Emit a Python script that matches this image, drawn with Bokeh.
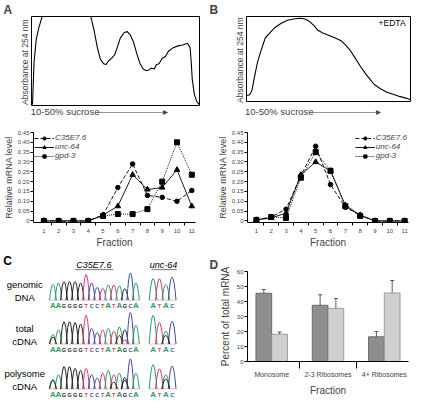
from bokeh.plotting import figure
from bokeh.layouts import column, row
from bokeh.models import (Range1d, FixedTicker, Legend, LegendItem,
                          NumeralTickFormatter, ColumnDataSource, Whisker, TeeHead)
from bokeh.transform import dodge
from bokeh.core.properties import value
from bokeh.embed import file_html
from bokeh.resources import INLINE

FONT = "Liberation Sans"

profA_x = [0.6, 1.5, 2.8, 4.3, 6.2, 7.5, 34.0, 35.4, 37.3, 39.2, 41.0, 42.9, 44.3, 45.8, 47.6, 49.5,
           51.0, 52.9, 55.2, 57.0, 58.9, 60.8, 62.7, 64.6, 66.5, 68.4, 69.9, 71.2, 73.1, 74.4,
           75.9, 77.8, 79.7, 81.5, 84.4, 87.2, 90.0, 92.8, 94.4, 95.1, 95.7, 97.0, 98.5, 100.0]
profA_y = [1, 48, 74, 87, 99, 106, 106, 99, 84, 65, 52, 47, 46, 50, 53, 57,
           65, 76, 82, 83, 79, 71, 58, 47, 41, 39, 40, 42, 41, 46,
           47, 53, 55, 61, 65, 67, 68, 70, 65, 48, 29, 12, 4, 1]
profB_x = [0.4, 1.9, 3.3, 4.8, 6.7, 8.7, 11.5, 14.4, 17.3, 21.2, 25.0, 28.8, 32.7, 35.6, 38.5,
           41.3, 43.3, 46.2, 50.0, 53.8, 57.7, 60.6, 63.5, 66.3, 69.2, 72.1, 75.0, 77.9, 81.7,
           85.6, 89.4, 93.3, 97.1, 100.0]
profB_y = [7, 8, 13, 28.5, 46, 59, 75, 81, 87, 92, 95.5, 97, 98, 97, 94,
           89, 84, 81, 78, 75, 71.5, 66, 59.5, 51, 42, 34, 27, 20, 15,
           11, 8.5, 6, 4, 2]

fractions = [1, 2, 3, 4, 5, 6, 7, 8, 9, 10, 11]
A_c35 = [0, 0, 0, 0, 0.03, 0.17, 0.29, 0.13, 0.12, 0.10, 0.155]
A_unc = [0, 0, 0, 0, 0.03, 0.075, 0.235, 0.16, 0.17, 0.26, 0.075]
A_gpd = [0, 0, 0, 0, 0.025, 0.035, 0.035, 0.06, 0.20, 0.40, 0.235]
B_c35 = [0.005, 0.02, 0.06, 0.23, 0.38, 0.185, 0.07, 0.03, 0, 0, 0]
B_unc = [0.005, 0.015, 0.04, 0.235, 0.30, 0.255, 0.08, 0.03, 0, 0, 0]
B_gpd = [0.005, 0.02, 0.015, 0.22, 0.35, 0.255, 0.075, 0.025, 0, 0, 0]
series_names = ["C35E7.6", "unc-64", "gpd-3"]
y_ticks = [0, 0.05, 0.10, 0.15, 0.20, 0.25, 0.30, 0.35, 0.40, 0.45]

seq_c35 = "AAGGGGTCCTATAGCA"
gen_c35 = [0.55, 0.6, 0.65, 0.65, 0.65, 0.6, 0.9, 0.6, 0.45, 0.42, 0.53, 0.53, 0.5, 0.4, 0.95, 0.6]
tot_c35 = [0.33, 0.5, 0.78, 0.78, 0.75, 0.7, 1.0, 0.55, 0.4, 0.5, 0.55, 0.45, 0.6, 0.5, 1.1, 0.66]
pol_c35 = [0.33, 0.5, 0.78, 0.78, 0.72, 0.65, 0.72, 0.5, 0.38, 0.55, 0.65, 0.5, 0.55, 0.4, 1.05, 0.55]
tot_c35_sec = [(0, "G", 0.25), (12, "G", 0.3), (13, "T", 0.15)]
pol_c35_sec = [(0, "G", 0.3), (11, "G", 0.25), (13, "G", 0.3)]
seq_unc = "ATAC"
gen_unc = [0.75, 0.75, 0.55, 0.8]
tot_unc = [1.0, 0.75, 0.45, 0.8]
pol_unc = [0.85, 0.7, 0.5, 0.8]
tot_unc_sec = [(2, "G", 0.3)]
pol_unc_sec = [(2, "G", 0.35)]
row_labels = [("genomic", "DNA"), ("total", "cDNA"), ("polysome", "cDNA")]

bar_cats = ["Monosome", "2-3 Ribosomes", "4+ Ribosomes"]
dark_vals = [45.5, 37.5, 16.5]
dark_lo = [43, 30, 13]
dark_hi = [48, 44.5, 20]
light_vals = [18.2, 35.5, 45.7]
light_lo = [16.7, 29, 38.5]
light_hi = [19.6, 42, 54]

BASE_COL = {"A": "#2f9a68", "C": "#3b4ea6", "G": "#222222", "T": "#d83a6e"}
SUCROSE = "10-50% sucrose"
ARROW = "\u2014" * 7 + "\u25B8"
W = 206


def base_fig(w, h, xr, yr, **kw):
    p = figure(width=w, height=h, x_range=xr, y_range=yr, output_backend="svg",
               toolbar_location=None, **kw)
    p.grid.visible = False
    p.background_fill_color = "white"
    p.border_fill_color = "white"
    return p


def set_title(p, text, offset):
    p.title.text = text
    p.title.align = "left"
    p.title.offset = offset
    p.title.standoff = 0
    p.title.text_font = FONT
    p.title.text_font_size = "12px"
    p.title.text_font_style = "bold"


def profile(xs, ys, letter, left, right, top, bottom, toff, lab_standoff, edta):
    p = base_fig(W, 119, Range1d(0, 100), Range1d(0, 100),
                 min_border_left=left, min_border_right=right,
                 min_border_top=top, min_border_bottom=bottom)
    set_title(p, letter, toff)
    p.outline_line_color = "black"
    p.outline_line_width = 1
    p.line(xs, ys, line_color="black", line_width=1.1)
    p.yaxis.ticker = FixedTicker(ticks=[])
    p.yaxis.axis_line_color = None
    p.yaxis.axis_label = "Absorbance at  254 nm"
    p.yaxis.axis_label_text_font = FONT
    p.yaxis.axis_label_text_font_size = "8.5px"
    p.yaxis.axis_label_text_font_style = "normal"
    p.yaxis.axis_label_standoff = 2
    p.xaxis.ticker = FixedTicker(ticks=[20, 60])
    p.xaxis.major_label_overrides = {20: SUCROSE, 60: ARROW}
    p.xaxis.major_tick_out = 0
    p.xaxis.major_tick_in = 0
    p.xaxis.axis_line_color = None
    p.xaxis.major_label_standoff = lab_standoff
    p.xaxis.major_label_text_font = FONT
    p.xaxis.major_label_text_font_size = "9.5px"
    if edta:
        p.text([97], [92], text=["+EDTA"], text_align="right", text_baseline="middle",
               text_font=value(FONT), text_font_size="8.5px", text_color="black")
    return p


def linechart(c35, unc, gpd, left, right, xstart, xend, loc):
    p = base_fig(W, 131, Range1d(xstart, xend), Range1d(-0.008, 0.45),
                 min_border_left=left, min_border_right=right,
                 min_border_top=13, min_border_bottom=27)
    p.outline_line_color = None
    l1 = p.line(fractions, c35, line_color="black", line_width=0.9, line_dash="4 2")
    m1 = p.scatter(fractions, c35, marker="circle", size=4.5, color="black")
    l2 = p.line(fractions, unc, line_color="black", line_width=0.9)
    m2 = p.scatter(fractions, unc, marker="triangle", size=5.5, color="black")
    l3 = p.line(fractions, gpd, line_color="black", line_width=0.9, line_dash="1 1")
    m3 = p.scatter(fractions, gpd, marker="square", size=5, color="black")
    leg = Legend(items=[LegendItem(label=series_names[0], renderers=[l1, m1]),
                        LegendItem(label=series_names[1], renderers=[l2, m2]),
                        LegendItem(label=series_names[2], renderers=[l3, m3])],
                 location=loc, label_text_font=FONT, label_text_font_size="8px",
                 label_text_font_style="italic", glyph_width=20, glyph_height=8,
                 label_height=8, spacing=0, padding=0, margin=1, label_standoff=1,
                 background_fill_alpha=0, border_line_alpha=0)
    p.add_layout(leg)
    xa = p.xaxis[0]
    xa.ticker = FixedTicker(ticks=fractions, minor_ticks=[f + 0.5 for f in fractions[:-1]])
    xa.major_tick_out = 0
    xa.major_tick_in = 0
    xa.minor_tick_out = 3
    xa.minor_tick_in = 0
    xa.major_label_standoff = 3
    xa.major_label_text_font = FONT
    xa.major_label_text_font_size = "6px"
    xa.axis_label = "Fraction"
    xa.axis_label_text_font = FONT
    xa.axis_label_text_font_size = "10px"
    xa.axis_label_text_font_style = "normal"
    xa.axis_label_standoff = 1
    ya = p.yaxis[0]
    ya.ticker = FixedTicker(ticks=y_ticks)
    ya.formatter = NumeralTickFormatter(format="0.00")
    ya.major_label_overrides = {0: "0"}
    ya.major_tick_out = 3
    ya.major_tick_in = 0
    ya.major_label_standoff = 1
    ya.major_label_text_font = FONT
    ya.major_label_text_font_size = "6px"
    ya.axis_label = "Relative mRNA level"
    ya.axis_label_text_font = FONT
    ya.axis_label_text_font_size = "9px"
    ya.axis_label_text_font_style = "normal"
    ya.axis_label_standoff = 1
    return p


fA1 = profile(profA_x, profA_y, "A", 31, 7, 13, 8, -28, 0, False)
fB1 = profile(profB_x, profB_y, "B", 40, 2, 13, 13, -37, 4, True)
fA2 = linechart(A_c35, A_unc, A_gpd, 31, 11, 0.3, 11.25, "top_left")
fB2 = linechart(B_c35, B_unc, B_gpd, 41, 4, 0.4, 11.26, "top_right")

fC = base_fig(W, 148, Range1d(-9.48, 27.76), Range1d(417, 262),
              min_border=0, x_axis_location=None, y_axis_location=None)
fC.outline_line_color = None

c35_x = list(range(len(seq_c35)))
unc_x = [18.1 + 1.15 * j for j in range(len(seq_unc))]
rows = [(314, gen_c35, [], gen_unc, []),
        (360, tot_c35, tot_c35_sec, tot_unc, tot_unc_sec),
        (407, pol_c35, pol_c35_sec, pol_unc, pol_unc_sec)]
AMP = 30


def add_trace(p, xs, seq, heights, sec, baseline, hw):
    x0, x1, cx, cy, col = [], [], [], [], []
    for x, b, h in zip(xs, seq, heights):
        x0.append(x - hw); x1.append(x + hw); cx.append(x); cy.append(baseline - 2 * h * AMP)
        col.append(BASE_COL[b])
    for i, b, h in sec:
        x = xs[i]
        x0.append(x - hw); x1.append(x + hw); cx.append(x); cy.append(baseline - 2 * h * AMP)
        col.append(BASE_COL[b])
    src = ColumnDataSource(dict(x0=x0, x1=x1, cx=cx, cy=cy, y=[baseline] * len(x0), col=col))
    p.segment(x0=[xs[0] - hw], x1=[xs[-1] + hw], y0=[baseline], y1=[baseline],
              line_color="#d9a3b5", line_width=0.7)
    p.quadratic(x0="x0", y0="y", x1="x1", y1="y", cx="cx", cy="cy", line_color="col",
                line_width=1, source=src)
    lsrc = ColumnDataSource(dict(x=xs, y=[baseline + 6] * len(xs), t=list(seq),
                                 c=[BASE_COL[b] for b in seq],
                                 s=["8px" if b == "A" else "5.5px" for b in seq]))
    p.text("x", "y", text="t", text_color="c", text_font_size="s", source=lsrc,
           text_align="center", text_baseline="middle", text_font=value(FONT),
           text_font_style="bold")


for (baseline, hc, sc, hu, su), (l1, l2) in zip(rows, row_labels):
    add_trace(fC, c35_x, seq_c35, hc, sc, baseline, 0.62)
    add_trace(fC, unc_x, seq_unc, hu, su, baseline, 0.7)
    fC.text([-5.1, -5.1], [baseline - 16, baseline - 3], text=[l1, l2], text_align="center",
            text_baseline="middle", text_font=value(FONT), text_font_size="9.5px", text_color="black")

fC.text([7.4, 20.0], [277, 277], text=["C35E7.6", "unc-64"], text_align="center",
        text_baseline="middle", text_font=value(FONT), text_font_size="9px",
        text_font_style="italic", text_color="black")
fC.segment(x0=[4.0, 17.8], x1=[10.9, 22.4], y0=[282, 282], y1=[282, 282],
           line_color="#555555", line_width=0.8)
fC.text([-8.97], [273], text=["C"], text_align="left", text_baseline="middle",
        text_font=value(FONT), text_font_size="12px", text_font_style="bold", text_color="black")

fD = base_fig(W, 148, Range1d(-0.43, 2.43), Range1d(0, 60),
              min_border_left=41, min_border_right=4, min_border_top=21, min_border_bottom=23)
set_title(fD, "D", -38)
fD.outline_line_color = None
bsrc = ColumnDataSource(dict(x=[0, 1, 2], dark=dark_vals, dlo=dark_lo, dhi=dark_hi,
                             light=light_vals, llo=light_lo, lhi=light_hi))
fD.vbar(x=dodge("x", -0.14), top="dark", width=0.28, source=bsrc,
        fill_color="#8e8e8e", line_color="#555555", line_width=0.8)
fD.vbar(x=dodge("x", 0.14), top="light", width=0.28, source=bsrc,
        fill_color="#cfcfcf", line_color="#8a8a8a", line_width=0.8)
for base, lo, hi in [(-0.14, "dlo", "dhi"), (0.14, "llo", "lhi")]:
    fD.add_layout(Whisker(base=dodge("x", base), lower=lo, upper=hi, source=bsrc,
                          line_color="#333333", line_width=0.8,
                          upper_head=TeeHead(size=4, line_color="#333333", line_width=0.8),
                          lower_head=TeeHead(size=4, line_color="#333333", line_width=0.8)))
xa = fD.xaxis[0]
xa.ticker = FixedTicker(ticks=[0, 1, 2], minor_ticks=[0.5, 1.5])
xa.major_label_overrides = {0: bar_cats[0], 1: bar_cats[1], 2: bar_cats[2]}
xa.major_tick_out = 0
xa.major_tick_in = 0
xa.minor_tick_out = 7
xa.minor_tick_in = 0
xa.major_label_standoff = 2
xa.major_label_text_font = FONT
xa.major_label_text_font_size = "7px"
xa.axis_label = "Fraction"
xa.axis_label_text_font = FONT
xa.axis_label_text_font_size = "10px"
xa.axis_label_text_font_style = "normal"
xa.axis_label_standoff = 4
ya = fD.yaxis[0]
ya.ticker = FixedTicker(ticks=[0, 10, 20, 30, 40, 50, 60])
ya.major_tick_out = 3
ya.major_tick_in = 0
ya.major_label_standoff = 1
ya.major_label_text_font = FONT
ya.major_label_text_font_size = "6px"
ya.axis_label = "Percent of total mRNA"
ya.axis_label_text_font = FONT
ya.axis_label_text_font_size = "10px"
ya.axis_label_text_font_style = "normal"
ya.axis_label_standoff = 3

layout = column(row(column(fA1), column(fB1)),
                row(column(fA2), column(fB2)),
                row(column(fC), column(fD)))
open("out.html", "w").write(file_html(layout, INLINE))
